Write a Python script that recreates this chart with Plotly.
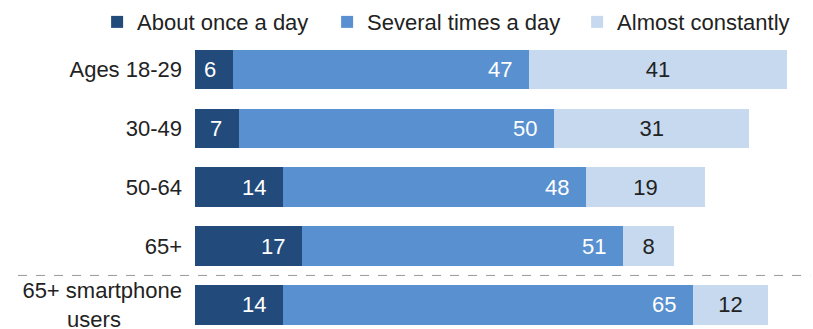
import plotly.graph_objects as go

categories = ["Ages 18-29", "30-49", "50-64", "65+", "65+ smartphone users"]
tick_labels = ["Ages 18-29", "30-49", "50-64", "65+",
               "65+ smartphone<br>users" + "\u00a0" * 10]
once_a_day = [6, 7, 14, 17, 14]
several_times = [47, 50, 48, 51, 65]
almost_constantly = [41, 31, 19, 8, 12]

series_names = ["About once a day", "Several times a day", "Almost constantly"]
colors = ["#224B7B", "#5890D0", "#C6D9EF"]
FONT = "Liberation Sans, Arial, sans-serif"

fig = go.Figure()
legend_widths = [185, 205, 180]
for vals, name, col, lw in zip([once_a_day, several_times, almost_constantly],
                               series_names, colors, legend_widths):
    fig.add_trace(go.Bar(
        y=categories, x=vals, name=name, orientation="h",
        marker=dict(color=col, line=dict(width=0)),
        legendwidth=lw, hoverinfo="skip",
    ))

# Third series labels: centered in segment
fig.data[2].update(text=[str(v) for v in almost_constantly], textposition="inside",
                   insidetextanchor="middle",
                   textfont=dict(color="#222222", size=22, family=FONT))

annotations = []
for i, cat in enumerate(categories):
    end1 = once_a_day[i]
    end2 = once_a_day[i] + several_times[i]
    annotations.append(dict(x=end1, y=cat, xref="x", yref="y", text=str(once_a_day[i]),
                            showarrow=False, xanchor="right", xshift=-15,
                            font=dict(color="white", size=22, family=FONT)))
    annotations.append(dict(x=end2, y=cat, xref="x", yref="y", text=str(several_times[i]),
                            showarrow=False, xanchor="right", xshift=-15,
                            font=dict(color="white", size=22, family=FONT)))

fig.update_layout(
    barmode="stack",
    bargap=0.33,
    width=813, height=329,
    margin=dict(l=195, r=10, t=40, b=0, autoexpand=False),
    paper_bgcolor="white", plot_bgcolor="white",
    font=dict(family=FONT, size=22, color="#222222"),
    showlegend=True,
    legend=dict(orientation="h", xref="paper", yref="paper",
                x=-0.161, y=1.062, xanchor="left", yanchor="middle",
                font=dict(size=22, color="#222222"), traceorder="normal",
                itemclick=False, itemdoubleclick=False),
    xaxis=dict(range=[0, 96.5], visible=False, fixedrange=True),
    yaxis=dict(categoryorder="array", categoryarray=categories,
               tickvals=categories, ticktext=tick_labels,
               range=[4.41, -0.5], showgrid=False, zeroline=False, showline=False,
               ticks="", ticklabelstandoff=12, fixedrange=True,
               tickfont=dict(size=22, color="#222222")),
    annotations=annotations,
    shapes=[dict(type="line", xref="paper", yref="y", x0=-0.291, x1=1.012,
                 y0=3.5, y1=3.5, line=dict(color="#9A9A9A", width=1, dash="dash"))],
)

fig.write_html("out.html", config={"displayModeBar": False})
